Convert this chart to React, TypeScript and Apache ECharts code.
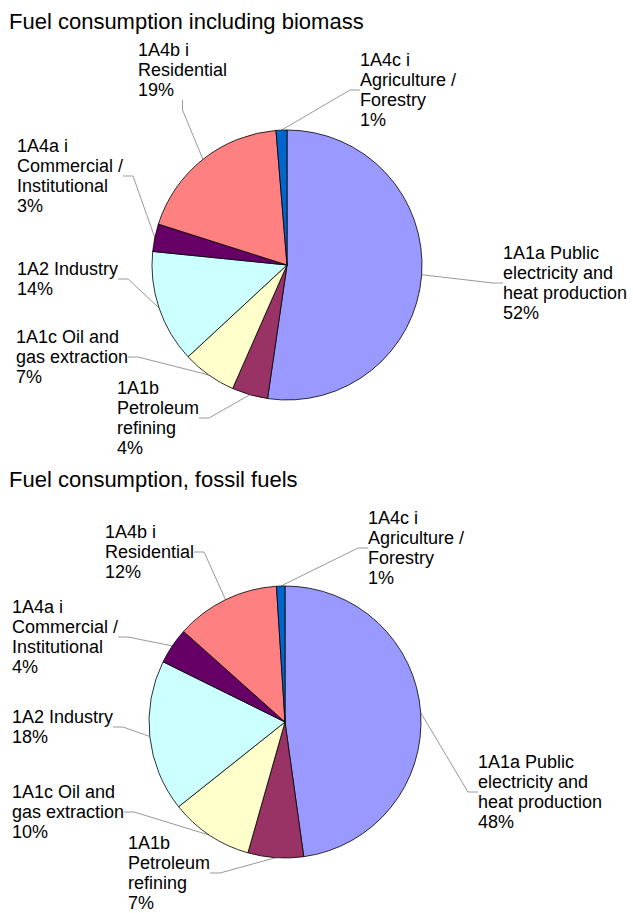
import React, { useEffect, useRef } from "react";
import * as echarts from "echarts";

const CATEGORIES = [
  "1A1a Public\nelectricity and\nheat production",
  "1A1b\nPetroleum\nrefining",
  "1A1c Oil and\ngas extraction",
  "1A2 Industry",
  "1A4a i\nCommercial /\nInstitutional",
  "1A4b i\nResidential",
  "1A4c i\nAgriculture /\nForestry",
];
const BIOMASS_VALUES = [52.3, 4.3, 6.5, 13.5, 3.3, 18.8, 1.3];
const FOSSIL_VALUES = [47.8, 6.6, 9.9, 18.0, 4.3, 12.4, 1.0];
const TITLES = ["Fuel consumption including biomass", "Fuel consumption, fossil fuels"];
const COLORS = ["#9999FF", "#993366", "#FFFFCC", "#CCFFFF", "#660066", "#FF8080", "#0066CC"];

// label box top-left positions (layout only)
const LABEL_POS_TOP: [number, number][] = [
  [503, 243],
  [117, 378],
  [16, 327],
  [17, 259],
  [17, 136],
  [138, 40],
  [360, 50],
];
const LABEL_POS_BOTTOM: [number, number][] = [
  [478, 752],
  [128, 833],
  [12, 782],
  [12, 707],
  [12, 597],
  [105, 522],
  [368, 508],
];

const FONT = "'Liberation Sans', Arial, sans-serif";

function makeSeries(values: number[], center: [number, number], radius: number, pos: [number, number][]) {
  return {
    type: "pie",
    center,
    radius,
    startAngle: 90,
    clockwise: true,
    percentPrecision: 0,
    avoidLabelOverlap: false,
    data: values.map((v, i) => ({
      name: CATEGORIES[i],
      value: v,
      itemStyle: { color: COLORS[i] },
    })),
    itemStyle: { borderColor: "#000", borderWidth: 0.8 },
    label: {
      show: true,
      formatter: "{b}\n{d}%",
      fontFamily: FONT,
      fontSize: 18,
      lineHeight: 20,
      color: "#000",
    },
    labelLine: {
      show: true,
      length: 10,
      length2: 10,
      lineStyle: { color: "#999", width: 1 },
    },
    labelLayout: (params: any) => {
      const p = pos[params.dataIndex];
      return { x: p[0], y: p[1], align: "left", verticalAlign: "top" };
    },
    emphasis: { disabled: true },
  };
}

export default function App() {
  const ref = useRef<HTMLDivElement>(null);
  useEffect(() => {
    if (!ref.current) return;
    const chart = echarts.init(ref.current, undefined, { renderer: "svg" });
    chart.setOption({
      animation: false,
      backgroundColor: "#fff",
      title: [
        {
          text: TITLES[0],
          left: 9,
          top: 10,
          textStyle: { fontFamily: FONT, fontSize: 22, fontWeight: "normal", color: "#000" },
          padding: 0,
        },
        {
          text: TITLES[1],
          left: 9,
          top: 468,
          textStyle: { fontFamily: FONT, fontSize: 22, fontWeight: "normal", color: "#000" },
          padding: 0,
        },
      ],
      series: [
        makeSeries(BIOMASS_VALUES, [287, 265], 135, LABEL_POS_TOP),
        makeSeries(FOSSIL_VALUES, [285, 722], 136, LABEL_POS_BOTTOM),
      ],
    });
    return () => chart.dispose();
  }, []);
  return (
    <div
      ref={ref}
      style={{ position: "absolute", left: 0, top: 0, width: 633, height: 913, background: "#fff" }}
    />
  );
}
